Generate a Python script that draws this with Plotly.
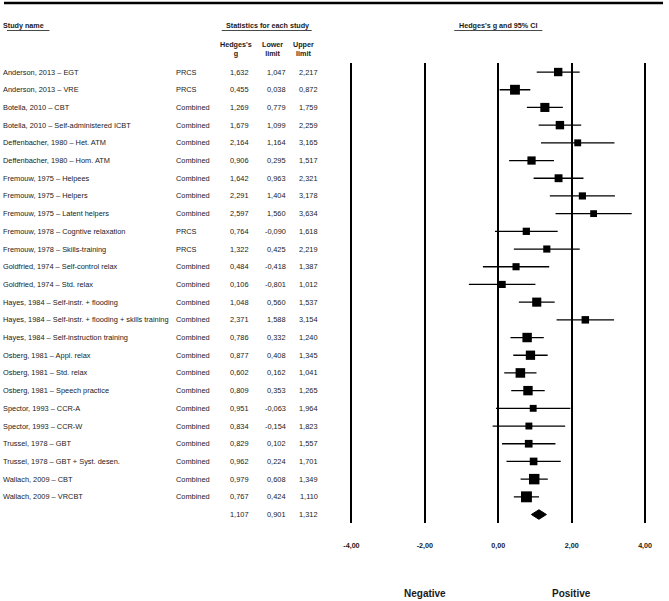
import plotly.graph_objects as go

studies = [
    "Anderson, 2013 – EGT",
    "Anderson, 2013 – VRE",
    "Botella, 2010 – CBT",
    "Botella, 2010 – Self-administered ICBT",
    "Deffenbacher, 1980 – Het. ATM",
    "Deffenbacher, 1980 – Hom. ATM",
    "Fremouw, 1975 – Helpees",
    "Fremouw, 1975 – Helpers",
    "Fremouw, 1975 – Latent helpers",
    "Fremouw, 1978 – Cogntive relaxation",
    "Fremouw, 1978 – Skills-training",
    "Goldfried, 1974 – Self-control relax",
    "Goldfried, 1974 – Std. relax",
    "Hayes, 1984 – Self-instr. + flooding",
    "Hayes, 1984 – Self-instr. + flooding + skills training",
    "Hayes, 1984 – Self-instruction training",
    "Osberg, 1981 – Appl. relax",
    "Osberg, 1981 – Std. relax",
    "Osberg, 1981 – Speech practice",
    "Spector, 1993 – CCR-A",
    "Spector, 1993 – CCR-W",
    "Trussel, 1978 – GBT",
    "Trussel, 1978 – GBT + Syst. desen.",
    "Wallach, 2009 – CBT",
    "Wallach, 2009 – VRCBT",
]
groups = ["PRCS", "PRCS", "Combined", "Combined", "Combined", "Combined", "Combined",
          "Combined", "Combined", "PRCS", "PRCS", "Combined", "Combined", "Combined",
          "Combined", "Combined", "Combined", "Combined", "Combined", "Combined",
          "Combined", "Combined", "Combined", "Combined", "Combined"]
hedges_g = [1.632, 0.455, 1.269, 1.679, 2.164, 0.906, 1.642, 2.291, 2.597, 0.764, 1.322,
            0.484, 0.106, 1.048, 2.371, 0.786, 0.877, 0.602, 0.809, 0.951, 0.834, 0.829,
            0.962, 0.979, 0.767]
lower = [1.047, 0.038, 0.779, 1.099, 1.164, 0.295, 0.963, 1.404, 1.560, -0.090, 0.425,
         -0.418, -0.801, 0.560, 1.588, 0.332, 0.408, 0.162, 0.353, -0.063, -0.154, 0.102,
         0.224, 0.608, 0.424]
upper = [2.217, 0.872, 1.759, 2.259, 3.165, 1.517, 2.321, 3.178, 3.634, 1.618, 2.219,
         1.387, 1.012, 1.537, 3.154, 1.240, 1.345, 1.041, 1.265, 1.964, 1.823, 1.557,
         1.701, 1.349, 1.110]
summary_g, summary_lower, summary_upper = 1.107, 0.901, 1.312
tick_values = [-4, -2, 0, 2, 4]
tick_labels = ["-4,00", "-2,00", "0,00", "2,00", "4,00"]

W, H = 669, 601
n = len(studies)
rows = list(range(n))
summary_row = n

def px(x):
    return x / W

def py(y):
    return 1 - y / H

def fmt(v):
    return f"{v:.3f}".replace(".", ",")

FONT = "Liberation Sans, Arial, sans-serif"
TXT = "#1a1a1a"
fs = 7.4

fig = go.Figure()

# study squares with CI lines
sizes = [4.8 + 4.2 / (u - l) for u, l in zip(upper, lower)]
fig.add_trace(go.Scatter(
    x=hedges_g, y=rows, mode="markers",
    marker=dict(symbol="square", size=sizes, color="black", opacity=1,
                line=dict(width=0)),
    error_x=dict(type="data", symmetric=False,
                 array=[u - g for u, g in zip(upper, hedges_g)],
                 arrayminus=[g - l for g, l in zip(hedges_g, lower)],
                 color="black", thickness=1.3, width=0),
    showlegend=False, hoverinfo="skip", cliponaxis=False,
))

# summary diamond
h = 0.27
fig.add_trace(go.Scatter(
    x=[summary_lower, summary_g, summary_upper, summary_g, summary_lower],
    y=[summary_row, summary_row - h, summary_row, summary_row + h, summary_row],
    mode="lines", fill="toself", fillcolor="black",
    line=dict(color="black", width=1), showlegend=False, hoverinfo="skip",
))

annotations = []
for i in rows:
    annotations.append(dict(x=px(-3), y=i, xref="paper", yref="y", text=studies[i],
                            xanchor="left", yanchor="middle", showarrow=False,
                            font=dict(size=fs, family=FONT, color=TXT)))
    annotations.append(dict(x=px(172), y=i, xref="paper", yref="y", text=groups[i],
                            xanchor="left", yanchor="middle", showarrow=False,
                            font=dict(size=fs, family=FONT, color=TXT)))
for i, (g, l, u) in enumerate(zip(hedges_g + [summary_g], lower + [summary_lower],
                                  upper + [summary_upper])):
    for val, xr in ((g, 250), (l, 287), (u, 319)):
        annotations.append(dict(x=px(xr), y=i, xref="paper", yref="y", text=fmt(val),
                                xanchor="right", yanchor="middle", showarrow=False,
                                font=dict(size=fs, family=FONT, color=TXT)))

hdr_font = dict(size=7.2, family=FONT, color=TXT)
annotations += [
    dict(x=px(-3), y=py(26), xref="paper", yref="paper", text="<b>Study name</b>",
         xanchor="left", yanchor="middle", showarrow=False, font=hdr_font),
    dict(x=px(266), y=py(26), xref="paper", yref="paper",
         text="<b>Statistics for each study</b>", xanchor="center", yanchor="middle",
         showarrow=False, font=hdr_font),
    dict(x=0, y=py(26), xref="x", yref="paper", text="<b>Hedges's g and 95% CI</b>",
         xanchor="center", yanchor="middle", showarrow=False, font=hdr_font),
    dict(x=px(234), y=py(48.5), xref="paper", yref="paper", text="<b>Hedges's<br>g</b>",
         xanchor="center", yanchor="middle", showarrow=False, font=hdr_font),
    dict(x=px(271), y=py(48.5), xref="paper", yref="paper", text="<b>Lower<br>limit</b>",
         xanchor="center", yanchor="middle", showarrow=False, font=hdr_font),
    dict(x=px(303), y=py(48.5), xref="paper", yref="paper", text="<b>Upper<br>limit</b>",
         xanchor="center", yanchor="middle", showarrow=False, font=hdr_font),
    dict(x=-2, y=py(593), xref="x", yref="paper", text="<b>Negative</b>",
         xanchor="center", yanchor="middle", showarrow=False,
         font=dict(size=10, family=FONT, color=TXT)),
    dict(x=2, y=py(593), xref="x", yref="paper", text="<b>Positive</b>",
         xanchor="center", yanchor="middle", showarrow=False,
         font=dict(size=10, family=FONT, color=TXT)),
]

shapes = [
    dict(type="line", xref="paper", yref="paper", x0=0, x1=px(666), y0=py(3), y1=py(3),
         line=dict(color="black", width=2.5)),
    dict(type="line", xref="paper", yref="paper", x0=px(3), x1=px(46), y0=py(30.5), y1=py(30.5),
         line=dict(color=TXT, width=0.8)),
    dict(type="line", xref="paper", yref="paper", x0=px(220), x1=px(311), y0=py(30.5), y1=py(30.5),
         line=dict(color=TXT, width=0.8)),
    dict(type="line", xref="paper", yref="paper", x0=px(455), x1=px(544), y0=py(30.5), y1=py(30.5),
         line=dict(color=TXT, width=0.8)),
]

x0_px, unit = 499.5, 37.1
xmin, xmax = -4.1, 4.1
fig.update_layout(
    width=W, height=H,
    margin=dict(l=0, r=0, t=0, b=0),
    paper_bgcolor="white", plot_bgcolor="white",
    annotations=annotations, shapes=shapes,
    xaxis=dict(domain=[px(x0_px + xmin * unit), px(x0_px + xmax * unit)],
               range=[xmin, xmax], tickvals=tick_values, ticktext=tick_labels,
               showgrid=True, gridcolor="black", gridwidth=2, zeroline=False,
               showline=False, ticks="", ticklabelstandoff=17,
               tickfont=dict(size=7.2, family=FONT, color=TXT, weight="bold"),
               fixedrange=True),
    yaxis=dict(domain=[py(522.5), py(63)], range=[25.45, -0.51],
               showgrid=False, zeroline=False, showticklabels=False, showline=False,
               fixedrange=True),
    showlegend=False,
)

fig.write_html("out.html", config={"displayModeBar": False},
               post_script="document.body.style.margin='0px';document.body.style.overflow='hidden';")
